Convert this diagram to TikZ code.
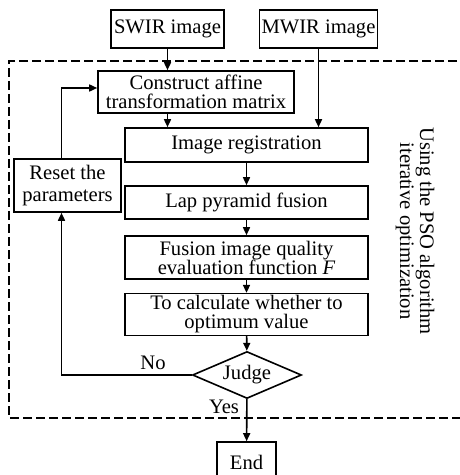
\documentclass[tikz,border=0pt]{standalone}
\usepackage{fontspec}
\setmainfont{Liberation Serif}
\usetikzlibrary{shapes.geometric,arrows.meta}

\tikzset{
  box/.style={draw, line width=0.8pt, align=center, inner sep=1pt, font=\fontsize{10.3}{9.5}\selectfont},
  flow/.style={-{Triangle[length=4pt,width=3.5pt]}, line width=0.8pt},
}

\begin{document}
\begin{tikzpicture}[x=0.5pt,y=-0.5pt]
    \useasboundingbox (0,0) rectangle (459,475);
    % optimization loop frame
    \draw[dash pattern=on 4.5pt off 2pt, line width=0.6pt] (470,61) -- (9,61) -- (9,418) -- (470,418);
    \node[box, minimum width=56.5pt, minimum height=19pt] (swir) at (167.5,29) {SWIR image};
    \node[box, minimum width=58.5pt, minimum height=19pt] (mwir) at (318.5,29) {MWIR image};
    \node[box, minimum width=98pt, minimum height=21pt] (affine) at (196,92) {Construct affine\\transformation matrix};
    \node[box, minimum width=53.5pt, minimum height=26.5pt, font=\fontsize{10.3}{11}\selectfont] (reset) at (67.5,185.5) {Reset the\\parameters};
    \node[box, minimum width=121.5pt, minimum height=17pt] (reg) at (246.5,145) {Image registration};
    \node[box, minimum width=121.5pt, minimum height=16.5pt] (lap) at (246.5,202.5) {Lap pyramid fusion};
    \node[box, minimum width=121.5pt, minimum height=21.5pt] (qual) at (246.5,257.5) {Fusion image quality\\evaluation function \textit{F}};
    \node[box, minimum width=121.5pt, minimum height=20.5pt] (calc) at (246.5,314.5) {To calculate whether to\\optimum value};
    \node[draw, diamond, aspect=2.3, line width=0.8pt, inner sep=0pt, minimum width=54.5pt, minimum height=23.5pt, font=\fontsize{10.3}{11}\selectfont] (judge) at (247,375) {Judge};
    \node[box, minimum width=29.5pt, minimum height=20pt] (end) at (246.5,462) {End};
    \node[rotate=-90, align=center, font=\fontsize{10.3}{10}\selectfont] (pso) at (415,231) {Using the PSO algorithm\\iterative optimization};
    \node[font=\fontsize{10.3}{11}\selectfont] (no) at (153,363) {No};
    \node[font=\fontsize{10.3}{11}\selectfont] (yes) at (224,407) {Yes};
    % arrows
    \draw[flow] (swir) -- (swir |- affine.north);
    \draw[flow] (mwir) -- (mwir |- reg.north);
    \draw[flow] (affine.south -| swir) -- (swir |- reg.north);
    \foreach \a/\b in {reg/lap,lap/qual,qual/calc,calc/judge,judge/end} {\draw[flow] (\a) -- (\b);}
    \draw[flow] (judge.west) -| ([xshift=-3pt]reset.south);
    \draw[flow] ([xshift=-3pt]reset.north) |- ([yshift=2pt]affine.west);
\end{tikzpicture}
\end{document}
